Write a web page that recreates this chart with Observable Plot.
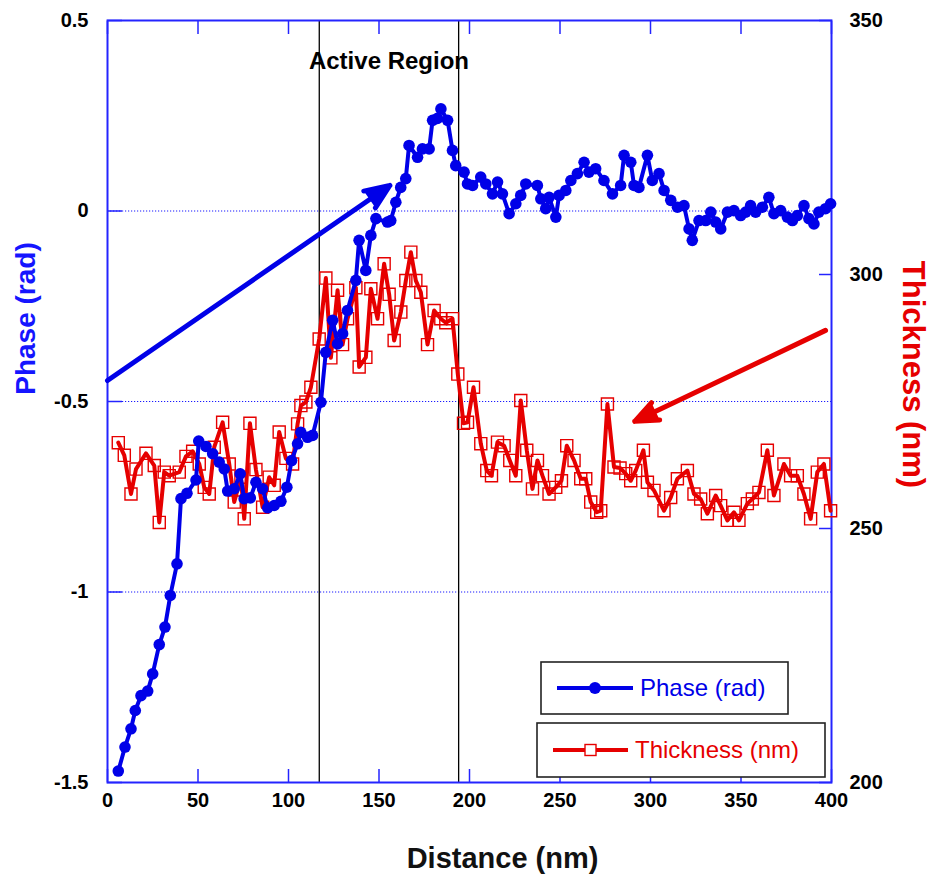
<!DOCTYPE html>
<html><head><meta charset="utf-8">
<script src="https://cdn.jsdelivr.net/npm/d3@7"></script>
<script src="https://cdn.jsdelivr.net/npm/@observablehq/plot@0.6"></script>
<style>
body{margin:0;background:#fff;}
#chart{position:relative;width:933px;height:878px;}
</style></head><body><div id="chart"></div>
<script>
// ---- data ----
const phaseX = [5.96, 9.66, 12.98, 15.35, 18.5, 22.2, 24.96, 28.6, 31.75, 34.7,
  38.4, 40.6, 43.9, 48.9, 50.4, 54.4, 58.1, 61.7, 64.5, 66.4,
  70.0, 73.3, 75.5, 78.9, 82.0, 85.7, 88.5, 92.1, 95.8, 99.1,
  101.7, 105.0, 106.8, 110.5, 113.3, 117.9, 120.6, 124.4, 127.1, 129.9,
  132.6, 137.2, 139.0, 142.7, 145.5, 148.3, 154.7, 156.5, 159.3, 162.0,
  164.8, 166.6, 171.3, 174.0, 177.7, 179.6, 182.3, 184.2, 187.9, 190.6,
  192.4, 197.0, 198.9, 201.7, 206.2, 209.0, 212.7, 215.5, 218.2, 221.9,
  225.6, 228.3, 231.1, 237.5, 239.4, 242.1, 244.0, 247.7, 249.5, 253.2,
  256.0, 259.6, 263.3, 266.0, 269.7, 274.3, 279.0, 283.5, 285.4, 289.1,
  290.9, 293.6, 298.3, 301.0, 304.7, 307.5, 311.2, 314.9, 318.5, 321.3,
  323.1, 326.8, 330.5, 333.3, 336.0, 338.8, 342.5, 346.1, 349.8, 352.6,
  355.3, 358.1, 361.8, 365.4, 368.2, 371.9, 375.6, 378.4, 381.1, 384.8,
  387.5, 390.3, 393.0, 396.7, 399.5];
const phaseY = [-1.470, -1.407, -1.359, -1.311, -1.272, -1.260, -1.215, -1.138, -1.092, -1.009,
  -0.926, -0.755, -0.741, -0.706, -0.604, -0.618, -0.637, -0.659, -0.677, -0.735,
  -0.729, -0.690, -0.755, -0.753, -0.712, -0.729, -0.779, -0.773, -0.762, -0.725,
  -0.655, -0.611, -0.581, -0.594, -0.589, -0.502, -0.371, -0.287, -0.349, -0.322,
  -0.261, -0.182, -0.077, -0.156, -0.064, -0.020, -0.029, -0.025, 0.023, 0.062,
  0.085, 0.172, 0.141, 0.163, 0.163, 0.238, 0.243, 0.268, 0.238, 0.159,
  0.119, 0.102, 0.071, 0.067, 0.089, 0.071, 0.045, 0.076, 0.045, -0.007,
  0.019, 0.041, 0.071, 0.067, 0.032, 0.006, 0.036, -0.016, 0.041, 0.054,
  0.080, 0.098, 0.128, 0.102, 0.111, 0.080, 0.045, 0.067, 0.146, 0.128,
  0.067, 0.062, 0.146, 0.080, 0.098, 0.054, 0.028, 0.010, 0.014, -0.047,
  -0.077, -0.025, -0.025, -0.003, -0.029, -0.047, -0.003, 0.001, -0.012, -0.003,
  0.014, -0.003, 0.010, 0.036, -0.007, 0.001, -0.016, -0.025, -0.012, 0.014,
  -0.020, -0.034, -0.003, 0.006, 0.019];
const thickX = [5.96, 9.28, 12.98, 15.74, 21.26, 25.84, 28.60, 31.36, 34.12, 39.65,
  43.35, 47.05, 50.69, 53.45, 56.21, 58.97, 63.61, 67.26, 70.02, 73.72,
  75.54, 78.69, 82.00, 85.70, 89.34, 92.10, 94.86, 98.56, 102.26, 105.03,
  106.85, 109.61, 112.37, 116.95, 120.65, 123.41, 127.11, 129.87, 132.63, 137.22,
  139.04, 142.74, 145.50, 149.20, 152.84, 155.60, 158.37, 162.07, 164.83, 167.59,
  170.35, 173.11, 176.81, 180.45, 184.15, 186.91, 190.61, 193.54, 196.69, 198.90,
  202.21, 206.24, 209.55, 212.15, 215.46, 219.11, 222.25, 225.57, 228.33, 231.64,
  234.79, 237.55, 240.31, 243.95, 247.65, 250.80, 253.73, 257.76, 261.46, 264.22,
  266.98, 270.29, 272.50, 276.20, 279.84, 283.16, 286.31, 289.07, 291.83, 296.08,
  298.29, 301.93, 307.46, 311.15, 314.85, 320.37, 324.02, 327.71, 331.41, 336.00,
  338.76, 342.46, 346.11, 348.87, 353.51, 356.27, 359.91, 364.55, 368.19, 373.71,
  377.41, 381.11, 384.76, 388.46, 392.16, 395.80, 399.50];
const thickY = [266.9, 264.4, 256.8, 261.7, 264.8, 262.4, 251.2, 261.1, 260.4, 261.1,
  264.2, 265.2, 262.7, 258.1, 256.8, 266.0, 270.9, 262.7, 255.2, 260.1,
  251.9, 270.7, 261.6, 254.2, 260.1, 258.5, 269.0, 263.8, 262.7, 270.6,
  274.2, 274.9, 277.8, 287.3, 299.3, 283.6, 296.9, 286.2, 291.3, 297.4,
  281.8, 283.7, 297.2, 291.3, 302.1, 296.1, 287.0, 292.6, 298.8, 304.4,
  298.8, 296.5, 286.2, 292.9, 291.3, 290.5, 291.3, 280.4, 270.7, 270.9,
  277.8, 266.7, 261.4, 260.4, 267.0, 266.3, 263.4, 260.4, 275.2, 265.4,
  257.8, 263.4, 260.4, 256.8, 258.1, 259.4, 266.3, 263.4, 259.8, 259.8,
  255.2, 253.2, 253.5, 274.5, 262.1, 261.9, 260.8, 259.4, 261.4, 265.4,
  259.1, 257.5, 253.5, 256.1, 259.8, 261.4, 256.8, 255.8, 252.9, 256.5,
  254.5, 251.6, 253.2, 251.6, 254.9, 255.8, 257.1, 265.4, 256.5, 262.7,
  260.4, 260.4, 256.8, 251.9, 261.1, 262.7, 253.5];

const xTicks = [0, 50, 100, 150, 200, 250, 300, 350, 400];
const phaseTicks = [-1.5, -1, -0.5, 0, 0.5];
const thickTicks = [200, 250, 300, 350];
const gridPhase = [-1, -0.5, 0];
const activeBounds = [117, 194];
const activeLabel = ["Active Region"];
const phaseArrow = [{x1: 0, y1: -0.445, x2: 156, y2: 0.067}];
const thickArrow = [{x1: 396.7, y1: 289.0, x2: 291.3, y2: 271.1}];
const legendItems = [
  {label: "Phase (rad)", color: "#0000e8", symbol: "circle"},
  {label: "Thickness (nm)", color: "#e60000", symbol: "square"}
];

// ---- secondary axis mapping ----
const phaseDomain = [-1.5, 0.5];
const thickDomain = [200, 350];
const toPhase = t => phaseDomain[0] + (t - thickDomain[0]) * (phaseDomain[1] - phaseDomain[0]) / (thickDomain[1] - thickDomain[0]);
const fromPhase = p => thickDomain[0] + (p - phaseDomain[0]) * (thickDomain[1] - thickDomain[0]) / (phaseDomain[1] - phaseDomain[0]);

const phaseData = phaseX.map((x, i) => ({x, y: phaseY[i]}));
const thickData = thickX.map((x, i) => ({x, y: toPhase(thickY[i])}));
const thickArrowP = thickArrow.map(d => ({x1: d.x1, y1: toPhase(d.y1), x2: d.x2, y2: toPhase(d.y2)}));

const BLUE = "#0000e8", RED = "#e60000", FRAME = "#2424ff";
const font = "'Liberation Sans', Arial, Helvetica, sans-serif";

const chart = Plot.plot({
  width: 933, height: 878,
  marginLeft: 107, marginRight: 102, marginTop: 20, marginBottom: 96,
  x: {domain: [0, 400]},
  y: {domain: phaseDomain},
  style: {fontFamily: font, background: "white", color: "black"},
  marks: [
    Plot.ruleY(gridPhase, {y: d => d, stroke: "#1a1aff", strokeWidth: 1.1, strokeDasharray: "1.2,1.8"}),
    Plot.ruleX(activeBounds, {x: d => d, stroke: "black", strokeWidth: 1.3}),
    // inward ticks
    Plot.axisX(xTicks, {anchor: "bottom", tickSize: -13, stroke: FRAME, strokeWidth: 1.5, tickFormat: () => ""}),
    Plot.axisX(xTicks, {anchor: "top", tickSize: -13, stroke: FRAME, strokeWidth: 1.5, tickFormat: () => ""}),
    Plot.axisY(phaseTicks, {anchor: "left", tickSize: -15, stroke: FRAME, strokeWidth: 1.5, tickFormat: () => ""}),
    Plot.axisY(thickTicks.map(toPhase), {anchor: "right", tickSize: -13, stroke: FRAME, strokeWidth: 1.5, tickFormat: () => ""}),
    // tick labels
    Plot.axisX(xTicks, {anchor: "bottom", tickSize: 0, tickPadding: 10, fontSize: 20, fontWeight: "bold", fill: "black", label: null}),
    Plot.axisY(phaseTicks, {anchor: "left", tickSize: 0, tickPadding: 19, fontSize: 20, fontWeight: "bold", fill: "black", label: null,
      tickFormat: d => String(d)}),
    Plot.axisY(thickTicks.map(toPhase), {anchor: "right", tickSize: 0, tickPadding: 18, fontSize: 20, fontWeight: "bold", fill: "black", label: null,
      tickFormat: p => String(Math.round(fromPhase(p)))}),
    Plot.frame({stroke: FRAME, strokeWidth: 2}),
    // series
    Plot.line(thickData, {x: "x", y: "y", stroke: RED, strokeWidth: 4}),
    Plot.dot(thickData, {x: "x", y: "y", symbol: "square", r: 6.8, stroke: RED, strokeWidth: 1.4, fill: "none"}),
    Plot.line(phaseData, {x: "x", y: "y", stroke: BLUE, strokeWidth: 4}),
    Plot.dot(phaseData, {x: "x", y: "y", r: 5.8, fill: BLUE}),
    // arrows
    Plot.arrow(phaseArrow, {x1: "x1", y1: "y1", x2: "x2", y2: "y2", stroke: BLUE, fill: BLUE, strokeWidth: 5, headLength: 8, headAngle: 45}),
    Plot.arrow(thickArrowP, {x1: "x1", y1: "y1", x2: "x2", y2: "y2", stroke: RED, fill: RED, strokeWidth: 5, headLength: 7.5, headAngle: 45}),
    // annotations / titles
    Plot.text(activeLabel, {x: () => (activeBounds[0] + activeBounds[1]) / 2, frameAnchor: "top", dy: 41, lineAnchor: "middle", text: d => d, fontSize: 24, fontWeight: "bold", fill: "black"}),
    Plot.text(["Distance (nm)"], {frameAnchor: "bottom", dx: 33, dy: 76, lineAnchor: "middle", textAnchor: "middle", text: d => d, fontSize: 29, fontWeight: "bold", fill: "#111"}),
    Plot.text(["Phase (rad)"], {frameAnchor: "left", dx: -81, dy: -83, rotate: -90, textAnchor: "middle", lineAnchor: "middle", text: d => d, fontSize: 28, fontWeight: "bold", fill: "#1515ff"}),
    Plot.text(["Thickness (nm)"], {frameAnchor: "right", dx: 81, dy: -27, rotate: 90, textAnchor: "middle", lineAnchor: "middle", text: d => d, fontSize: 31, fontWeight: "bold", fill: RED})
  ]
});

document.getElementById("chart").appendChild(chart);

// ---- legend (inside plot area) ----
const svg = d3.select(chart);
const boxes = [
  {x: 541, y: 662, w: 247, h: 52, lx1: 557, lx2: 633, tx: 640},
  {x: 537, y: 723, w: 288, h: 54, lx1: 553, lx2: 628, tx: 635}
];
legendItems.forEach((it, i) => {
  const b = boxes[i];
  const g = svg.append("g");
  const cy = b.y + b.h / 2;
  g.append("rect").attr("x", b.x).attr("y", b.y).attr("width", b.w).attr("height", b.h)
    .attr("fill", "white").attr("stroke", "#222").attr("stroke-width", 1.6);
  g.append("line").attr("x1", b.lx1).attr("x2", b.lx2).attr("y1", cy).attr("y2", cy)
    .attr("stroke", it.color).attr("stroke-width", 4);
  const mx = (b.lx1 + b.lx2) / 2;
  if (it.symbol === "circle") {
    g.append("circle").attr("cx", mx).attr("cy", cy).attr("r", 6).attr("fill", it.color);
  } else {
    g.append("rect").attr("x", mx - 5.5).attr("y", cy - 5.5).attr("width", 11).attr("height", 11)
      .attr("fill", "white").attr("stroke", it.color).attr("stroke-width", 1.4);
  }
  g.append("text").attr("x", b.tx).attr("y", cy).attr("dy", "0.35em").attr("text-anchor", "start")
    .attr("font-family", font).attr("font-size", 24).attr("fill", it.color).text(it.label);
});
</script></body></html>
